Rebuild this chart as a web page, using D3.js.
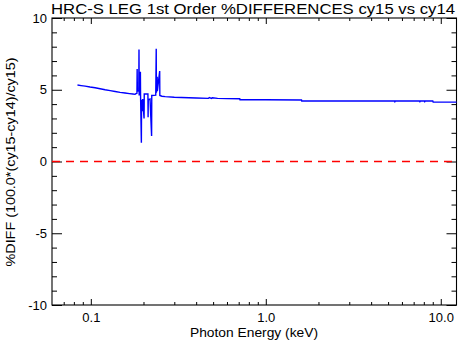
<!DOCTYPE html>
<html><head><meta charset="utf-8">
<script src="https://cdn.jsdelivr.net/npm/d3@7"></script>
<style>
html,body{margin:0;padding:0;background:#fff;}
text{font-family:"Liberation Sans","DejaVu Sans",sans-serif;fill:#000;}
</style></head>
<body><svg id="c" width="458" height="343"></svg>
<script>
// ---- data ----
const energy = [0.0839,0.0880,0.0928,0.0990,0.1058,0.1130,0.1207,0.1290,0.1377,0.1470,0.1570,0.1660,0.1740,0.1790,
  0.1800,0.1835,0.1840,0.1845,0.1880,0.1885,0.1890,0.1920,0.1925,0.1945,0.1950,0.1975,0.1980,0.2015,0.2020,
  0.2120,0.2125,0.2130,0.2180,0.2225,0.2230,0.2350,0.2365,0.2370,0.2395,0.2400,0.2475,0.2480,0.2550,0.2660,
  0.300,0.400,0.470,0.475,0.490,0.495,0.530,0.600,0.710,0.712,1.000,1.600,1.605,5.450,5.470,5.500,7.550,7.600,
  7.650,8.050,8.100,8.150,9.000,9.050,12.3];
const pctDiff = [5.33,5.29,5.25,5.19,5.14,5.07,5.00,4.94,4.88,4.82,4.77,4.73,4.70,4.68,
  4.72,4.75,6.44,4.95,4.90,7.80,4.60,6.25,4.50,1.30,4.30,3.50,4.35,3.00,4.70,
  4.70,3.08,4.30,4.35,1.78,4.60,4.62,7.85,4.80,5.90,4.90,6.30,4.60,4.55,4.52,
  4.48,4.43,4.40,4.46,4.40,4.44,4.40,4.38,4.37,4.30,4.30,4.29,4.22,4.22,4.17,4.22,4.22,4.17,
  4.22,4.22,4.17,4.22,4.22,4.14,4.14];
const xMajorTicks = [0.1, 1, 10];
const xMajorLabels = ["0.1", "1.0", "10.0"];
const xMinorTicks = [0.07,0.08,0.09,0.2,0.3,0.4,0.5,0.6,0.7,0.8,0.9,2,3,4,5,6,7,8,9];
const yMajorTicks = [-10,-5,0,5,10];
const yMajorLabels = ["-10","-5","0","5","10"];
const yMinorTicks = [-9,-8,-7,-6,-4,-3,-2,-1,1,2,3,4,6,7,8,9];
const titleText = "HRC-S LEG 1st Order %DIFFERENCES cy15 vs cy14";
const xTitle = "Photon Energy (keV)";
const yTitle = "%DIFF (100.0*(cy15-cy14)/cy15)";

// ---- layout ----
const L = 52, R = 456.5, T = 18, B = 305;
const svg = d3.select("#c");
const x = d3.scaleLog().domain([0.06, 12.3]).range([L, R]);
const y = d3.scaleLinear().domain([-10, 10]).range([B, T]);

function ax(gen, vals, size, tx, ty, labels) {
  const g = svg.append("g").attr("transform", `translate(${tx},${ty})`)
    .call(gen.tickValues(vals).tickSizeInner(size).tickSizeOuter(0)
      .tickFormat(labels ? (d,i)=>labels[i] : ()=>""));
  g.select(".domain").remove();
  g.selectAll("line").attr("stroke","#000").attr("stroke-width",1);
  g.selectAll("text").attr("font-size",13);
  return g;
}
const gb = ax(d3.axisBottom(x), xMajorTicks, -6, 0, B, xMajorLabels);
gb.selectAll("text").attr("dy", null).attr("y", 17);
ax(d3.axisBottom(x), xMinorTicks, -3, 0, B, null);
ax(d3.axisTop(x), xMajorTicks, -6, 0, T, null);
ax(d3.axisTop(x), xMinorTicks, -3, 0, T, null);
const gl = ax(d3.axisLeft(y), yMajorTicks, -10, L, 0, yMajorLabels);
gl.selectAll("text").attr("x", -5);
ax(d3.axisLeft(y), yMinorTicks, -5, L, 0, null);
ax(d3.axisRight(y), yMajorTicks, -10, R, 0, null);
ax(d3.axisRight(y), yMinorTicks, -5, R, 0, null);

svg.append("rect").attr("x", L).attr("y", T).attr("width", R - L).attr("height", B - T)
  .attr("fill", "none").attr("stroke", "#000").attr("stroke-width", 1.1);

svg.append("line").attr("x1", L).attr("x2", R).attr("y1", y(0)).attr("y2", y(0))
  .attr("stroke", "#ff0000").attr("stroke-width", 1.3).attr("stroke-dasharray", "8,6");

const pts = energy.map((e, i) => [e, pctDiff[i]]);
svg.append("path").datum(pts)
  .attr("d", d3.line().x(d => x(d[0])).y(d => y(d[1])))
  .attr("fill", "none").attr("stroke", "#0000ff").attr("stroke-width", 1.4);

svg.append("text").attr("x", 253).attr("y", 14).attr("text-anchor", "middle")
  .attr("font-size", 15).attr("textLength", 404).attr("lengthAdjust", "spacingAndGlyphs").text(titleText);
svg.append("text").attr("x", 254).attr("y", 337).attr("text-anchor", "middle")
  .attr("font-size", 13).attr("textLength", 128).attr("lengthAdjust", "spacingAndGlyphs").text(xTitle);
svg.append("text").attr("transform", "translate(15,162) rotate(-90)").attr("text-anchor", "middle")
  .attr("font-size", 13).attr("textLength", 209).attr("lengthAdjust", "spacingAndGlyphs").text(yTitle);
</script></body></html>
